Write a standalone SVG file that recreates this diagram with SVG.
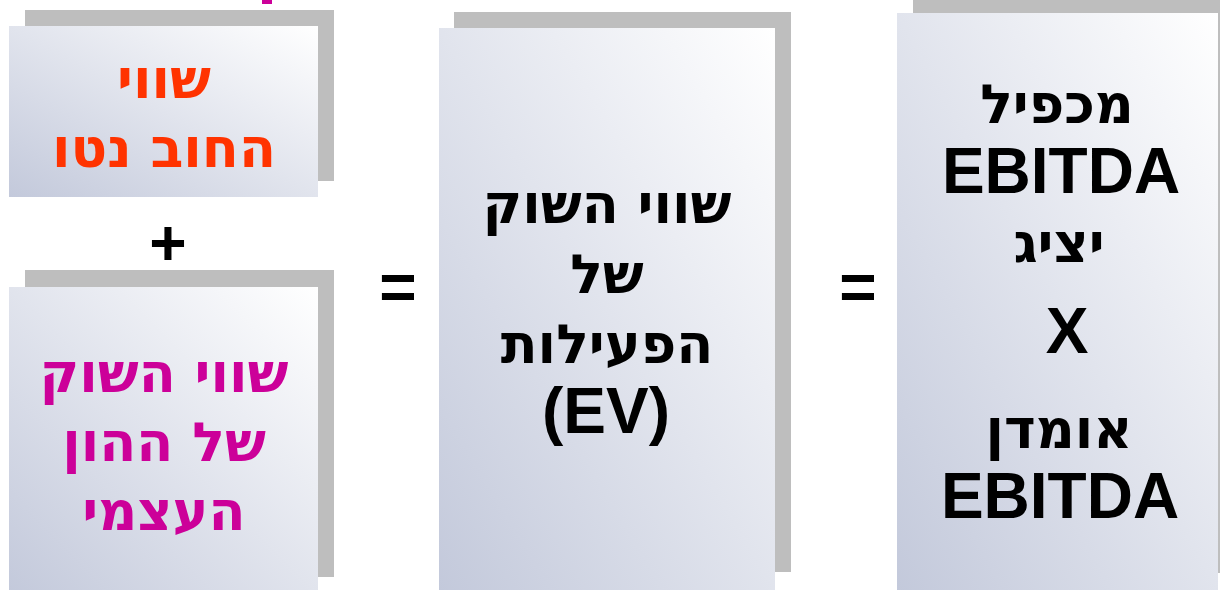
<svg xmlns="http://www.w3.org/2000/svg" width="1220" height="590" viewBox="0 0 1220 590">
  <defs>
    <!-- panel fill: white at the top-right corner fading to slate blue at the bottom-left -->
    <linearGradient id="panelFill" x1="1" y1="0" x2="0" y2="1">
      <stop offset="0" stop-color="#ffffff"/>
      <stop offset="1" stop-color="#c3c9db"/>
    </linearGradient>
  </defs>
  <style>
    .shadow { fill: #bebebe; }
    .panel { fill: url(#panelFill); }
    .heb { font-family: "DejaVu Sans", sans-serif; font-weight: bold; font-size: 54px; text-anchor: middle; }
    .lat { font-family: "Liberation Sans", Arial, sans-serif; font-weight: bold; font-size: 64px; text-anchor: middle; }
    .debt { fill: #ff3300; }
    .equity { fill: #cc0099; }
    .ink { fill: #000000; }
  </style>

  <rect width="1220" height="590" fill="#ffffff"/>

  <!-- tail of a heading that sits above the frame -->
  <rect x="262" y="0" width="10" height="4" fill="#cc0099"/>

  <!-- net debt -->
  <g id="net-debt">
    <rect class="shadow" x="25" y="10" width="309" height="171"/>
    <rect class="panel" x="9" y="26" width="309" height="171"/>
    <text class="heb debt" x="164" y="98">שווי</text>
    <text class="heb debt" x="164" y="167">החוב נטו</text>
  </g>

  <!-- market value of equity -->
  <g id="equity-value">
    <rect class="shadow" x="25" y="270" width="309" height="307"/>
    <rect class="panel" x="9" y="287" width="309" height="307"/>
    <text class="heb equity" x="164" y="392">שווי השוק</text>
    <text class="heb equity" x="164" y="461">של ההון</text>
    <text class="heb equity" x="164" y="530">העצמי</text>
  </g>

  <!-- enterprise value -->
  <g id="enterprise-value">
    <rect class="shadow" x="454" y="12" width="337" height="560"/>
    <rect class="panel" x="439" y="28" width="336" height="562"/>
    <text class="heb ink" x="607" y="223">שווי השוק</text>
    <text class="heb ink" x="607" y="293">של</text>
    <text class="heb ink" x="607" y="363">הפעילות</text>
    <text class="lat ink" x="606" y="433">(EV)</text>
  </g>

  <!-- multiple x EBITDA -->
  <g id="ebitda-multiple">
    <rect class="shadow" x="913" y="-3" width="321" height="576"/>
    <rect class="panel" x="897" y="13" width="321" height="577"/>
    <text class="heb ink" x="1057" y="123">מכפיל</text>
    <text class="lat ink" x="1061" y="193">EBITDA</text>
    <text class="heb ink" x="1059" y="262">יציג</text>
    <text class="lat ink" x="1067" y="353">X</text>
    <text class="heb ink" x="1059" y="448">אומדן</text>
    <text class="lat ink" x="1060" y="518">EBITDA</text>
  </g>

  <!-- operators between the panels -->
  <g id="operators">
    <text class="lat ink" x="168" y="265">+</text>
    <text class="lat ink" x="398" y="309">=</text>
    <text class="lat ink" x="858" y="309">=</text>
  </g>
</svg>
